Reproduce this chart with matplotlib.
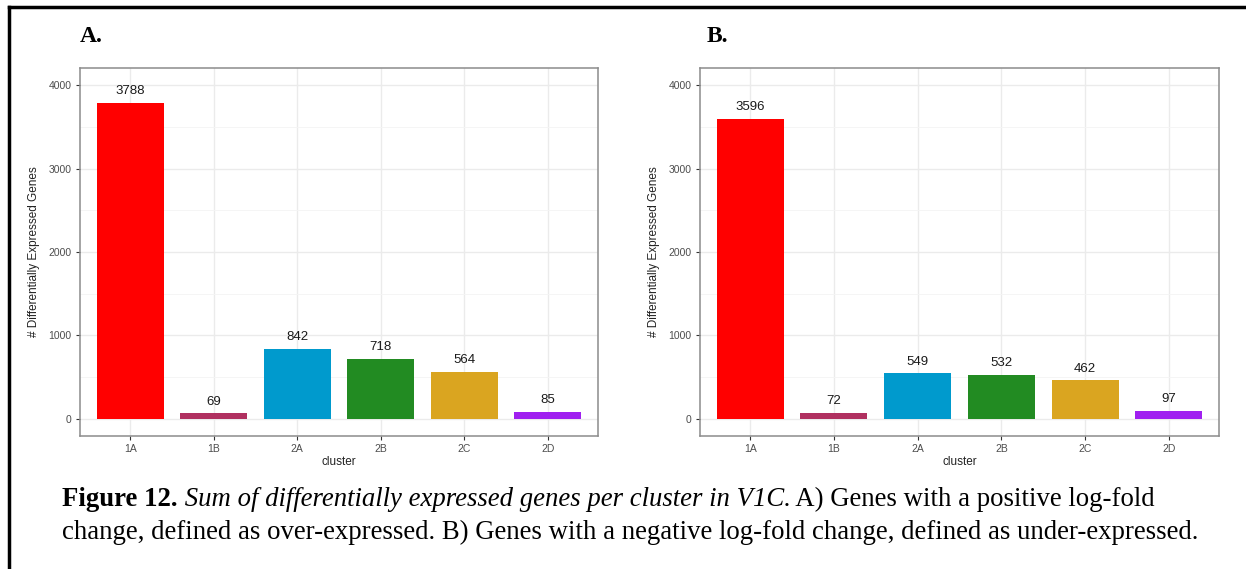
import numpy as np
import matplotlib.pyplot as plt
from matplotlib.lines import Line2D

clusters = ['1A', '1B', '2A', '2B', '2C', '2D']
over_expr = [3788, 69, 842, 718, 564, 85]
under_expr = [3596, 72, 549, 532, 462, 97]
bar_colors = ['#FF0000', '#B03060', '#009ACD', '#228B22', '#DAA520', '#A020F0']
yticks = [0, 1000, 2000, 3000, 4000]

plt.rcParams['font.family'] = ['Liberation Sans', 'DejaVu Sans']

W, H = 1246, 569
fig = plt.figure(figsize=(W / 100, H / 100), dpi=100)


def px_axes(x0, x1, y0, y1):
    # pixel box (top-left origin) -> figure fraction
    return fig.add_axes([x0 / W, 1 - y1 / H, (x1 - x0) / W, (y1 - y0) / H])


def draw_panel(ax, values):
    x = np.arange(len(clusters))
    ax.set_axisbelow(True)
    ax.bar(x, values, width=0.8, color=bar_colors, edgecolor='none', zorder=2)
    for xi, v in zip(x, values):
        ax.annotate(str(v), (xi, v), xytext=(0, 4), textcoords='offset points',
                    ha='center', va='bottom', fontsize=9.5, color='#1a1a1a')
    ax.set_xlim(-0.6, len(clusters) - 0.4)
    ax.set_ylim(-204, 4204)
    ax.set_xticks(x)
    ax.set_xticklabels(clusters)
    ax.set_yticks(yticks)
    ax.set_yticks([500, 1500, 2500, 3500], minor=True)
    ax.grid(which='major', color='#ebebeb', linewidth=1.0)
    ax.grid(which='minor', axis='y', color='#f4f4f4', linewidth=0.6)
    ax.tick_params(which='major', length=3, width=0.8, color='#333333',
                   labelsize=7.5, labelcolor='#4d4d4d', pad=3)
    ax.tick_params(which='minor', length=0)
    for s in ax.spines.values():
        s.set_color('#8c8c8c')
        s.set_linewidth(1.1)
    ax.set_xlabel('cluster', fontsize=8.5, color='#222222', labelpad=1)
    ax.set_ylabel('# Differentially Expressed Genes', fontsize=8.5,
                  color='#222222', labelpad=6)


axA = px_axes(80, 598, 68, 436)
draw_panel(axA, over_expr)
axB = px_axes(700, 1219, 68, 436)
draw_panel(axB, under_expr)

serif = ['Liberation Serif', 'DejaVu Serif']
fig.text(80 / W, 1 - 37 / H, 'A.', family=serif, fontweight='bold',
         fontsize=17, va='center', ha='left')
fig.text(707 / W, 1 - 37 / H, 'B.', family=serif, fontweight='bold',
         fontsize=17, va='center', ha='left')

# caption with mixed styles on first line
cap_size = 19.3
renderer = fig.canvas.get_renderer()
pieces = [('Figure 12.', 'bold', 'normal'),
          (' Sum of differentially expressed genes per cluster in V1C.', 'normal', 'italic'),
          (' A) Genes with a positive log-fold', 'normal', 'normal')]
xpos = 62
for txt, wt, st in pieces:
    t = fig.text(xpos / W, 1 - 506 / H, txt, family=serif, fontweight=wt,
                 fontstyle=st, fontsize=cap_size, va='baseline', ha='left')
    bb = t.get_window_extent(renderer=renderer)
    xpos = bb.x1
fig.text(62 / W, 1 - 539 / H,
         'change, defined as over-expressed. B) Genes with a negative log-fold change, '
         'defined as under-expressed.',
         family=serif, fontsize=cap_size, va='baseline', ha='left')

# black frame (top and left edges)
fig.add_artist(Line2D([9 / W, 1], [1 - 7 / H, 1 - 7 / H], color='black',
                      linewidth=2.5, transform=fig.transFigure))
fig.add_artist(Line2D([9 / W, 9 / W], [1 - 7 / H, 0], color='black',
                      linewidth=2.5, transform=fig.transFigure))

fig.savefig('out.png', dpi=100)
